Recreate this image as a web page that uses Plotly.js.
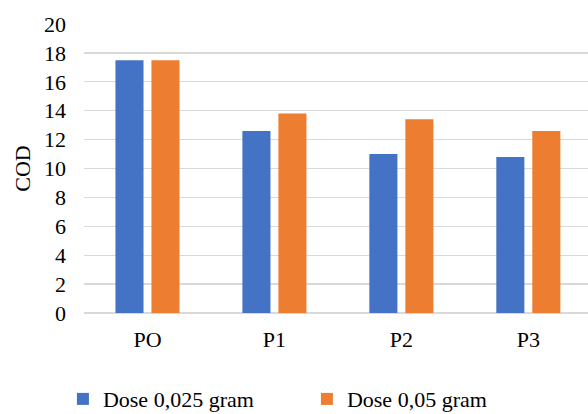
<!DOCTYPE html>
<html>
<head>
<meta charset="utf-8">
<script src="https://cdn.plot.ly/plotly-3.0.1.min.js"></script>
<style>html,body{margin:0;padding:0;background:#fff}#chart{width:588px;height:414px}</style>
</head>
<body>
<div id="chart"></div>
<script>
var categories = ["PO", "P1", "P2", "P3"];
var dose025 = [17.5, 12.6, 11.0, 10.8];
var dose05 = [17.5, 13.8, 13.4, 12.6];
var seriesNames = ["Dose 0,025 gram", "Dose 0,05 gram"];
var yTicks = [0, 2, 4, 6, 8, 10, 12, 14, 16, 18, 20];

var font = {family: "'Liberation Serif', 'Times New Roman', serif", size: 22, color: "#000"};

var traces = [
  {type: "bar", x: categories, y: dose025, name: seriesNames[0], marker: {color: "#4472C4", line: {width: 0}}},
  {type: "bar", x: categories, y: dose05, name: seriesNames[1], marker: {color: "#ED7D31", line: {width: 0}}}
];

var layout = {
  width: 588, height: 414,
  margin: {l: 84, r: 0, t: 24, b: 101},
  paper_bgcolor: "#fff", plot_bgcolor: "#fff",
  font: font,
  barmode: "group", bargap: 0.433, bargroupgap: 0.22,
  xaxis: {
    type: "category", range: [-0.5, 3.47],
    showgrid: false, zeroline: false, showline: false,
    ticks: "", ticklabelstandoff: 11, tickfont: font
  },
  yaxis: {
    range: [0, 20], tickvals: yTicks, ticktext: yTicks.map(String),
    showgrid: true, gridcolor: "#d9d9d9", gridwidth: 1.3,
    zeroline: true, zerolinecolor: "#d9d9d9", zerolinewidth: 1.3,
    showline: false, ticks: "", ticklabelstandoff: 17, tickfont: font,
    title: {text: "COD", font: font, standoff: 7}
  },
  showlegend: true,
  legend: {
    orientation: "h", xref: "container", yref: "container",
    x: 0.107, xanchor: "left", y: 0.036, yanchor: "middle",
    font: font, entrywidth: 199, entrywidthmode: "pixels",
    traceorder: "normal", bgcolor: "rgba(0,0,0,0)"
  }
};

Plotly.newPlot("chart", traces, layout, {displayModeBar: false, staticPlot: true});
</script>
</body>
</html>
